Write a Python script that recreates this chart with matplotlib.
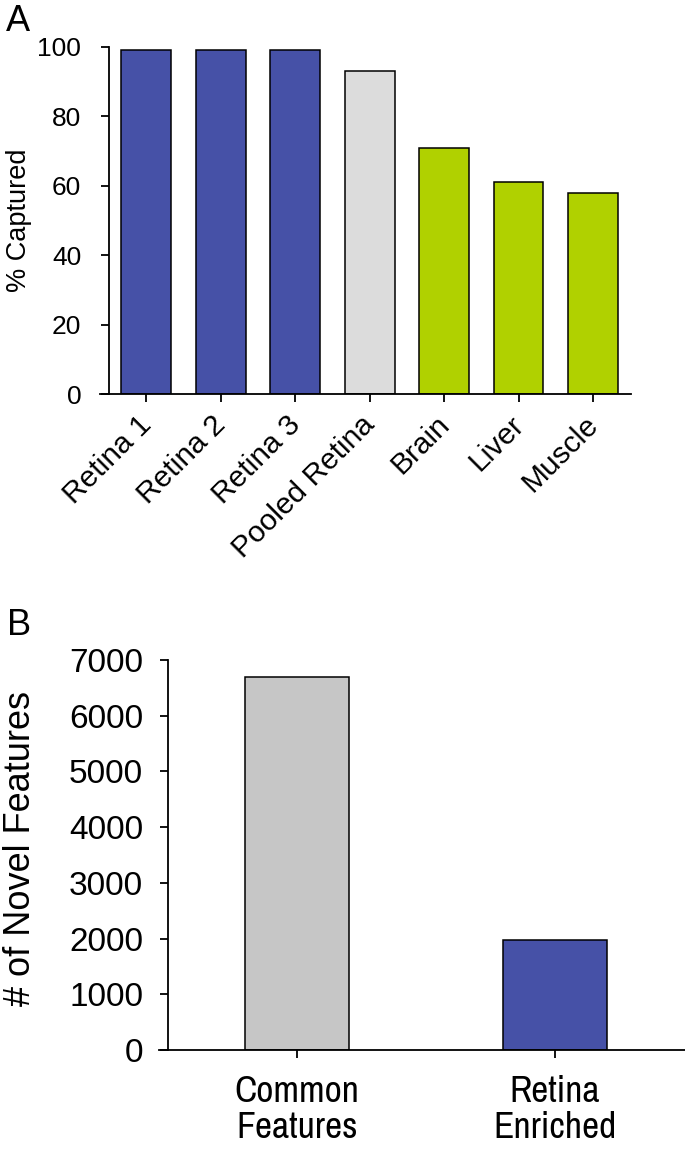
# PLOT.PY -----------------------------------

import numpy as np
import matplotlib
matplotlib.use("Agg")
import matplotlib.pyplot as plt
from matplotlib.transforms import ScaledTranslation

plt.rcParams["font.family"] = ["Liberation Sans", "DejaVu Sans"]
NARROW = ["Archivo Narrow", "Liberation Sans", "DejaVu Sans"]

# panel A data
samples = ["Retina 1", "Retina 2", "Retina 3", "Pooled Retina", "Brain", "Liver", "Muscle"]
pct_captured = [99, 99, 99, 93, 71, 61, 58]
sample_colors = ["#4651A7", "#4651A7", "#4651A7", "#DCDCDC", "#B0D100", "#B0D100", "#B0D100"]
a_ticks = [0, 20, 40, 60, 80, 100]

# panel B data
feature_groups = ["Common\nFeatures", "Retina\nEnriched"]
novel_counts = [6700, 1970]
group_colors = ["#C6C6C6", "#4651A7"]
b_ticks = [0, 1000, 2000, 3000, 4000, 5000, 6000, 7000]

W, H = 685, 1155


# common axis styling
def style_axis(ax, xleft):
    for s in ["top", "right"]:
        ax.spines[s].set_visible(False)
    ax.spines["left"].set_position(("data", xleft))
    ax.spines["left"].set_linewidth(1.3)
    ax.spines["bottom"].set_linewidth(1.3)
    ax.tick_params(direction="out", length=6, width=1.3, color="black")


fig = plt.figure(figsize=(W / 100, H / 100), dpi=100)

# panel A
ax1 = fig.add_axes([100 / W, 1 - 394 / H, 531 / W, 347 / H])
x1 = np.arange(len(samples))
ax1.bar(x1, pct_captured, width=0.67, color=sample_colors, edgecolor="black", linewidth=1.1)
ax1.set_xlim(-0.62, 6.51)
ax1.set_ylim(0, 100)
style_axis(ax1, -0.5)
ax1.set_yticks(a_ticks)
ax1.set_yticklabels([str(t) for t in a_ticks], fontsize=19)
ax1.tick_params(axis="y", pad=14)
ax1.set_xticks(x1)
ax1.set_xticklabels(samples, fontsize=21.5, rotation=45, ha="right", rotation_mode="anchor")
ax1.tick_params(axis="x", pad=8)
shift = ScaledTranslation(-9 / 100, 3 / 100, fig.dpi_scale_trans)
for lab in ax1.get_xticklabels():
    lab.set_transform(lab.get_transform() + shift)
fig.text(19 / W, 1 - 220 / H, "% Captured", rotation=90, ha="center", va="center", fontsize=19.5)
fig.text(6 / W, 1 - 4 / H, "A", ha="left", va="top", fontsize=26)

# panel B
ax2 = fig.add_axes([159 / W, 1 - 1050 / H, 526 / W, 390 / H])
x2 = np.arange(len(feature_groups))
ax2.bar(x2, novel_counts, width=0.4, color=group_colors, edgecolor="black", linewidth=1.1)
ax2.set_xlim(-0.535, 1.504)
ax2.set_ylim(0, 7000)
style_axis(ax2, -0.5)
ax2.set_yticks(b_ticks)
ax2.set_yticklabels([str(t) for t in b_ticks], fontsize=24)
ax2.tick_params(axis="y", pad=12)
ax2.set_xticks(x2)
ax2.set_xticklabels(feature_groups, fontsize=27, linespacing=1.1, family=NARROW)
ax2.tick_params(axis="x", pad=12)
fig.text(21 / W, 1 - 848 / H, "# of Novel Features", rotation=90, ha="center", va="center", fontsize=26)
fig.text(7 / W, 1 - 608 / H, "B", ha="left", va="top", fontsize=26)

fig.savefig("out.png", dpi=100)
